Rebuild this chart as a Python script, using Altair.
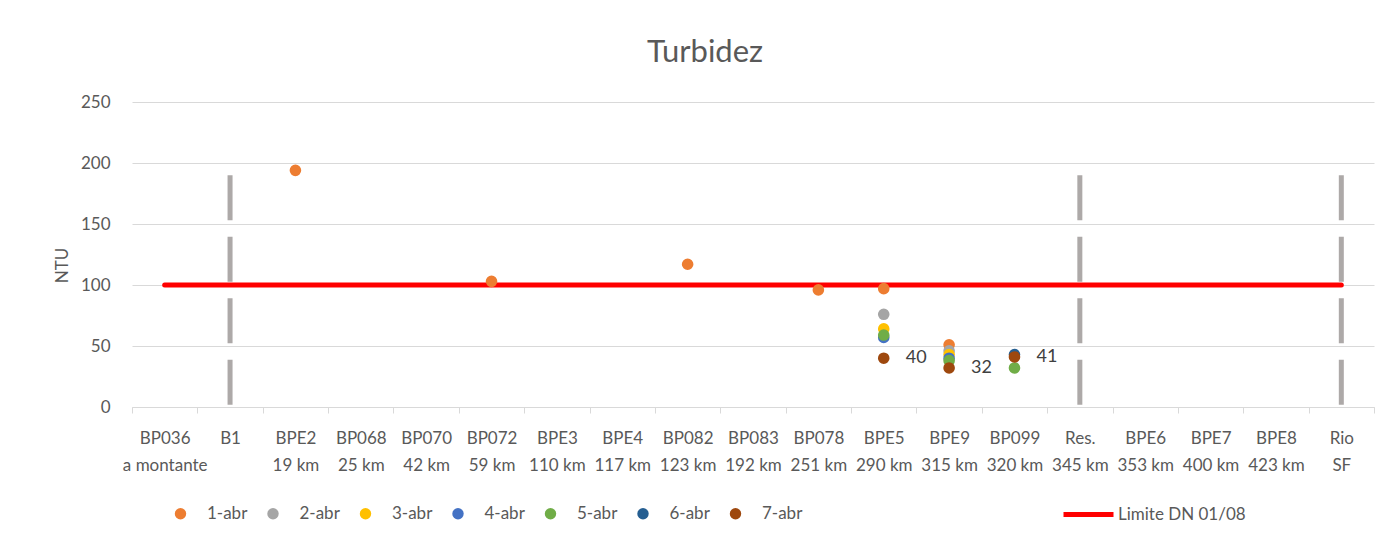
import altair as alt
import pandas as pd

# ---------------- data ----------------
stations = ["BP036", "B1", "BPE2", "BP068", "BP070", "BP072", "BPE3", "BPE4", "BP082",
            "BP083", "BP078", "BPE5", "BPE9", "BP099", "Res.", "BPE6", "BPE7", "BPE8", "Rio"]
distances = ["a montante", "", "19 km", "25 km", "42 km", "59 km", "110 km", "117 km", "123 km",
             "192 km", "251 km", "290 km", "315 km", "320 km", "345 km", "353 km", "400 km",
             "423 km", "SF"]

series_names = ["1-abr", "2-abr", "3-abr", "4-abr", "5-abr", "6-abr", "7-abr"]
series_colors = ["#ED7D31", "#A5A5A5", "#FFC000", "#4472C4", "#70AD47", "#255E91", "#9E480E"]
N = None
abr1 = [N, N, 194, N, N, 103, N, N, 117, N, 96, 97, 51, N, N, N, N, N, N]
abr2 = [N, N, N, N, N, N, N, N, N, N, N, 76, 46, N, N, N, N, N, N]
abr3 = [N, N, N, N, N, N, N, N, N, N, N, 64, 43, N, N, N, N, N, N]
abr4 = [N, N, N, N, N, N, N, N, N, N, N, 57, 40, N, N, N, N, N, N]
abr5 = [N, N, N, N, N, N, N, N, N, N, N, 59, 38, 32, N, N, N, N, N]
abr6 = [N, N, N, N, N, N, N, N, N, N, N, N, N, 43, N, N, N, N, N]
abr7 = [N, N, N, N, N, N, N, N, N, N, N, 40, 32, 41, N, N, N, N, N]
series_values = [abr1, abr2, abr3, abr4, abr5, abr6, abr7]
labelled_series = "7-abr"

limit_name = "Limite DN 01/08"
limit_values = [100] * 19

separator_stations = ["B1", "Res.", "Rio"]
separator_top = 190

# ---------------- tables ----------------
keys = [f"{s}|{d}" for s, d in zip(stations, distances)]
key_of = dict(zip(stations, keys))

rows = []
for si, (name, vals) in enumerate(zip(series_names, series_values)):
    for k, v in zip(keys, vals):
        if v is not None:
            rows.append({"key": k, "value": v, "series": name, "order": si})
points_df = pd.DataFrame(rows)
labels_df = points_df[points_df["series"] == labelled_series]

limit_df = pd.DataFrame({"key": keys, "value": limit_values, "name": limit_name})
sep_df = pd.DataFrame({"key": [key_of[s] for s in separator_stations],
                       "top": separator_top, "bot": 0})

FONT = "Lato"
TXT = "#595959"

x_enc = alt.X(
    "key:N",
    scale=alt.Scale(type="band", domain=keys, paddingInner=0, paddingOuter=0),
    bandPosition=0.5,
    title=None,
    axis=alt.Axis(
        labelExpr="split(datum.label, '|')",
        labelAngle=0, labelFontSize=17, labelFont=FONT, labelColor=TXT,
        labelLineHeight=27, labelPadding=17, labelLimit=300,
        tickBand="extent", ticks=True, tickSize=6, tickColor="#D9D9D9",
        domainColor="#D9D9D9", grid=False, labelOverlap=False,
    ),
)

y_scale = alt.Scale(domain=[0, 250], nice=False)
y_axis = alt.Axis(values=[0, 50, 100, 150, 200, 250], grid=True, gridColor="#D9D9D9",
                  domain=False, ticks=False, labelPadding=22, labelFontSize=17,
                  labelFont=FONT, labelColor=TXT, titleFont=FONT, titleFontSize=17,
                  titleColor=TXT, titleFontWeight="normal", titleAngle=270,
                  titleX=-70, titleY=163, titleBaseline="middle", titleAlign="center")

separators = alt.Chart(sep_df).mark_rule(
    color="#ADA9A8", strokeWidth=5, strokeDash=[45, 16.5]
).encode(
    x=x_enc,
    y=alt.Y("top:Q", scale=y_scale, axis=y_axis, title="NTU"),
    y2="bot:Q",
)

limit_line = alt.Chart(limit_df).mark_line(strokeWidth=5, strokeCap="round").encode(
    x=x_enc,
    y=alt.Y("value:Q", scale=y_scale, axis=y_axis, title="NTU"),
    stroke=alt.Stroke(
        "name:N",
        scale=alt.Scale(domain=[limit_name], range=["#FF0000"]),
        legend=alt.Legend(orient="none", legendX=929, legendY=385, title=None,
                          symbolType="stroke", symbolSize=2500, symbolStrokeWidth=5,
                          labelOffset=2, labelFontSize=17, labelFont=FONT,
                          labelColor=TXT),
    ),
)

points = alt.Chart(points_df).mark_point(filled=True, size=135, opacity=1).encode(
    x=x_enc,
    y=alt.Y("value:Q", scale=y_scale, axis=y_axis, title="NTU"),
    color=alt.Color(
        "series:N",
        scale=alt.Scale(domain=series_names, range=series_colors),
        legend=alt.Legend(orient="none", legendX=40, legendY=403, title=None,
                          direction="horizontal", symbolType="circle", symbolSize=130,
                          symbolStrokeWidth=0, labelOffset=18, columnPadding=16.5,
                          labelFontSize=17, labelFont=FONT, labelColor=TXT),
    ),
    order=alt.Order("order:Q"),
)

labels = alt.Chart(labels_df).mark_text(
    align="left", baseline="middle", dx=22, fontSize=18, font=FONT, color="#404040"
).encode(
    x=x_enc,
    y=alt.Y("value:Q", scale=y_scale, axis=y_axis, title="NTU"),
    text=alt.Text("value:Q"),
)

chart = alt.layer(separators, limit_line, points, labels).properties(
    width=1242,
    height=305,
    autosize=alt.AutoSizeParams(type="none"),
    padding={"left": 124, "top": 94, "right": 10, "bottom": 120},
    title=alt.Title("Turbidez", fontSize=31, font=FONT, fontWeight="normal", color=TXT,
                    anchor="middle", dx=-48, offset=0, baseline="alphabetic"),
).configure_view(stroke=None)

chart.save("out.html", embed_options={"renderer": "svg", "actions": False})
